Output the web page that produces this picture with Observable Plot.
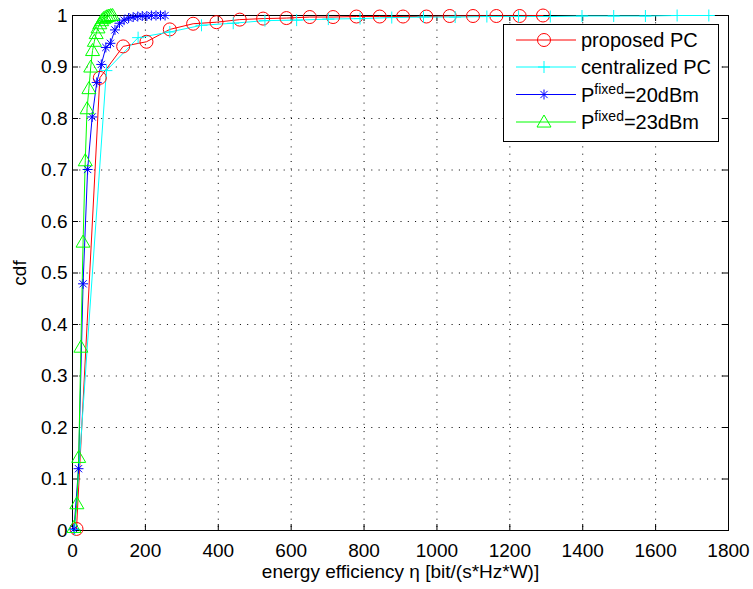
<!DOCTYPE html>
<html>
<head>
<meta charset="utf-8">
<script src="https://cdn.jsdelivr.net/npm/d3@7"></script>
<script src="https://cdn.jsdelivr.net/npm/@observablehq/plot@0.6"></script>
<style>
  body { margin: 0; background: #fff; }
  #wrap { position: relative; width: 753px; height: 589px; background: #fff; }
  #legend { position: absolute; left: 503px; top: 24px; width: 214px; height: 116px;
            border: 1px solid #000; background: #fff; }
  #legend svg { display: block; }
</style>
</head>
<body>
<div id="wrap"></div>
<script>
// ---- data ----
const xTicks = [0, 200, 400, 600, 800, 1000, 1200, 1400, 1600, 1800];
const yTicks = [0, 0.1, 0.2, 0.3, 0.4, 0.5, 0.6, 0.7, 0.8, 0.9, 1];

const seriesNames = ["proposed PC", "centralized PC", "P^fixed=20dBm", "P^fixed=23dBm"];

const proposedX = [11, 75, 139, 203, 267, 331, 395, 459, 523, 587, 651, 715, 779, 843, 907, 971, 1035, 1099, 1163, 1227, 1291];
const proposedY = [0.003, 0.879, 0.940, 0.949, 0.973, 0.984, 0.987, 0.992, 0.994, 0.995, 0.997, 0.997, 0.998, 0.998, 0.998, 0.998, 0.999, 0.999, 0.999, 0.999, 1.0];

const centralX = [6, 93, 180, 267, 354, 441, 528, 615, 702, 789, 876, 963, 1050, 1137, 1224, 1311, 1398, 1485, 1572, 1659, 1746];
const centralY = [0.002, 0.893, 0.957, 0.968, 0.981, 0.985, 0.990, 0.991, 0.993, 0.994, 0.996, 0.997, 0.997, 0.998, 0.998, 0.998, 0.999, 0.999, 0.999, 1.0, 1.0];

const fixed20X = [4, 16.5, 29, 41.5, 54, 66.5, 79, 91.5, 104, 116.5, 129, 141.5, 154, 166.5, 179, 191.5, 204, 216.5, 229, 241.5, 254];
const fixed20Y = [0.003, 0.120, 0.479, 0.701, 0.803, 0.870, 0.905, 0.938, 0.946, 0.972, 0.985, 0.991, 0.995, 0.997, 0.998, 0.999, 0.999, 1.0, 1.0, 1.0, 1.0];

const fixed23X = [4, 12, 17, 23, 29, 35, 40, 45, 50, 55, 60, 65, 70, 75, 80, 85, 90, 95, 100, 105, 110];
const fixed23Y = [0.006, 0.052, 0.142, 0.356, 0.560, 0.718, 0.819, 0.858, 0.900, 0.932, 0.950, 0.965, 0.976, 0.984, 0.990, 0.994, 0.996, 0.998, 0.999, 1.0, 1.0];

const colors = ["#ff0000", "#00ffff", "#0000ff", "#00ff00"];

// ---- custom MATLAB-like marker symbols ----
const plusSym = { draw(ctx, size) { const r = Math.sqrt(size / Math.PI);
  ctx.moveTo(-r, 0); ctx.lineTo(r, 0); ctx.moveTo(0, -r); ctx.lineTo(0, r); } };
const starSym = { draw(ctx, size) { const r = Math.sqrt(size / Math.PI); const d = r * 0.72;
  ctx.moveTo(-r, 0); ctx.lineTo(r, 0); ctx.moveTo(0, -r); ctx.lineTo(0, r);
  ctx.moveTo(-d, -d); ctx.lineTo(d, d); ctx.moveTo(-d, d); ctx.lineTo(d, -d); } };
const triSym = { draw(ctx, size) { const r = Math.sqrt(size / Math.PI);
  ctx.moveTo(0, -r); ctx.lineTo(r, r * 0.72); ctx.lineTo(-r, r * 0.72); ctx.closePath(); } };
const circSym = { draw(ctx, size) { const r = Math.sqrt(size / Math.PI);
  ctx.moveTo(r, 0); ctx.arc(0, 0, r, 0, 2 * Math.PI); } };

const symbols = [circSym, plusSym, starSym, triSym];
const radii = [6.5, 6, 5, 7];

const toRows = (xs, ys) => xs.map((x, i) => ({x, y: ys[i]}));
const series = [
  toRows(proposedX, proposedY),
  toRows(centralX, centralY),
  toRows(fixed20X, fixed20Y),
  toRows(fixed23X, fixed23Y)
];

const W = 753, H = 589, ML = 72, MR = 25, MT = 15, MB = 59;
const FW = W - ML - MR, FH = H - MT - MB;
const TL = 6;

const marks = [
  Plot.ruleX(xTicks.slice(1, -1), {stroke: "#000", strokeDasharray: "1,6.3", strokeWidth: 1}),
  Plot.ruleY(yTicks.slice(1, -1), {stroke: "#000", strokeDasharray: "1,6.3", strokeWidth: 1}),
  Plot.tickX(xTicks, {x: d => d, insetTop: FH - TL, stroke: "#000"}),
  Plot.tickX(xTicks, {x: d => d, insetBottom: FH - TL, stroke: "#000"}),
  Plot.tickY(yTicks, {y: d => d, insetRight: FW - TL, stroke: "#000"}),
  Plot.tickY(yTicks, {y: d => d, insetLeft: FW - TL, stroke: "#000"}),
  Plot.axisX(xTicks, {tickSize: 0, tickPadding: 13, label: null, tickFormat: d => String(d), fill: "#000"}),
  Plot.axisY(yTicks, {tickSize: 0, tickPadding: 5, label: null, tickFormat: d => String(d), fill: "#000"}),
  Plot.frame({stroke: "#000", strokeWidth: 1}),
  Plot.text(["energy efficiency η [bit/(s*Hz*W)]"], {frameAnchor: "bottom", text: d => d, dy: 47,
    lineAnchor: "bottom", textAnchor: "middle", fill: "#000"}),
  Plot.text(["cdf"], {frameAnchor: "left", text: d => d, dx: -47, rotate: -90,
    lineAnchor: "bottom", textAnchor: "middle", fill: "#000"})
];

series.forEach((rows, i) => {
  marks.push(Plot.line(rows, {x: "x", y: "y", stroke: colors[i], strokeWidth: 1}));
});
series.forEach((rows, i) => {
  marks.push(Plot.dot(rows, {x: "x", y: "y", stroke: colors[i], fill: "none", strokeWidth: 1,
    symbol: () => symbols[i], r: radii[i]}));
});

const chart = Plot.plot({
  width: W, height: H,
  marginLeft: ML, marginRight: MR, marginTop: MT, marginBottom: MB,
  x: {domain: [0, 1800], axis: null},
  y: {domain: [0, 1], axis: null},
  symbol: {type: "identity"},
  style: {background: "#fff", color: "#000", font: "19px 'Liberation Sans', Arial, Helvetica, sans-serif", overflow: "visible"},
  marks
});
document.getElementById("wrap").appendChild(chart);

// ---- legend (HTML overlay, MATLAB style) ----
const legend = document.createElement("div");
legend.id = "legend";
const ns = "http://www.w3.org/2000/svg";
const lsvg = document.createElementNS(ns, "svg");
lsvg.setAttribute("width", 214); lsvg.setAttribute("height", 116);
lsvg.style.font = "20px 'Liberation Sans', Arial, Helvetica, sans-serif";
const rowY = [15, 42, 69.5, 97];
seriesNames.forEach((name, i) => {
  const y = rowY[i];
  const ln = document.createElementNS(ns, "line");
  ln.setAttribute("x1", 12); ln.setAttribute("x2", 72); ln.setAttribute("y1", y); ln.setAttribute("y2", y);
  ln.setAttribute("stroke", colors[i]); ln.setAttribute("stroke-width", 1);
  lsvg.appendChild(ln);
  const p = document.createElementNS(ns, "path");
  const sz = Math.PI * radii[i] * radii[i];
  p.setAttribute("d", d3.symbol(symbols[i], sz)());
  p.setAttribute("transform", `translate(40,${y})`);
  p.setAttribute("stroke", colors[i]); p.setAttribute("fill", "none");
  lsvg.appendChild(p);
  const t = document.createElementNS(ns, "text");
  t.setAttribute("x", 77); t.setAttribute("y", y + 7);
  t.setAttribute("fill", "#000");
  if (name.startsWith("P^")) {
    const rest = name.slice(2);
    const [sup, tail] = rest.split("=");
    const a = document.createElementNS(ns, "tspan"); a.textContent = "P";
    const b = document.createElementNS(ns, "tspan"); b.textContent = sup;
    b.setAttribute("font-size", "14px"); b.setAttribute("dy", "-8");
    const c = document.createElementNS(ns, "tspan"); c.textContent = "=" + tail;
    c.setAttribute("dy", "8");
    t.appendChild(a); t.appendChild(b); t.appendChild(c);
  } else {
    t.textContent = name;
  }
  lsvg.appendChild(t);
});
legend.appendChild(lsvg);
document.getElementById("wrap").appendChild(legend);
</script>
</body>
</html>
